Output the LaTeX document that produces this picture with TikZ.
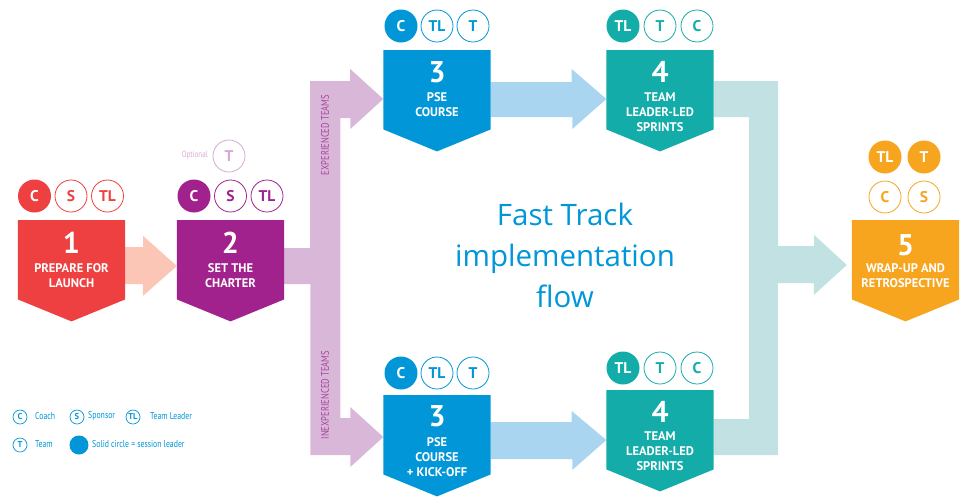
\documentclass[tikz,border=0pt]{standalone}
\usepackage{fontspec}
\setmainfont{PT Sans}
\newfontfamily\narrowfont[FakeStretch=0.78]{PT Sans}
\newfontfamily\titlefont{Open Sans}
\usepackage{xcolor}
\usepackage{tikz}
\definecolor{redbox}{HTML}{EE4040}
\definecolor{peach}{HTML}{FBC6B5}
\definecolor{purplebox}{HTML}{A1228D}
\definecolor{lilac}{HTML}{D9B7D8}
\definecolor{lilactxt}{HTML}{D6A9D4}
\definecolor{purpletxt}{HTML}{A6459C}
\definecolor{bluebox}{HTML}{0096D7}
\definecolor{skyarrow}{HTML}{A9D5F0}
\definecolor{tealbox}{HTML}{14ACA8}
\definecolor{paleteal}{HTML}{C2E1E3}
\definecolor{orangebox}{HTML}{F7A51F}

\begin{document}
\begin{tikzpicture}[x=1pt,y=1pt,yscale=-1,xscale=1,
  stagebox/.style={rectangle,minimum width=107pt,minimum height=79pt,inner sep=0pt,anchor=north},
  stagenum/.style={anchor=north,inner sep=0pt,text=white,font=\bfseries\fontsize{30}{30}\selectfont},
  stagelbl/.style={anchor=north,inner sep=0pt,text=white,align=center,font=\bfseries\fontsize{12.5}{15}\selectfont},
  lead/.style={circle,minimum size=33pt,inner sep=0pt,fill=#1,text=white,font=\bfseries\fontsize{15.5}{15.5}\selectfont},
  part/.style={circle,minimum size=32pt,inner sep=0pt,draw=#1,line width=0.8pt,fill=white,text=#1,font=\bfseries\fontsize{15.5}{15.5}\selectfont},
  keyring/.style={circle,minimum size=14pt,inner sep=0pt,draw=bluebox,line width=0.7pt,text=bluebox,font=\bfseries\fontsize{8.5}{8.5}\selectfont},
  keytxt/.style={anchor=west,inner sep=0pt,text=bluebox,font=\narrowfont\fontsize{10}{10}\selectfont},
  sidetxt/.style={rotate=90,inner sep=0pt,text=purpletxt,font=\narrowfont\fontsize{11}{11}\selectfont}]
\useasboundingbox (0,0) rectangle (965,496);

\node[stagebox] (s1) at (71.5,220) {};
\node[stagebox] (s2) at (230.5,220) {};
\node[stagebox] (s3a) at (437,50) {};
\node[stagebox] (s4a) at (660,50) {};
\node[stagebox] (s3b) at (437,395) {};
\node[stagebox] (s4b) at (660,390) {};
\node[stagebox] (s5) at (905.5,220) {};

\fill[peach] ([yshift=27pt]s1.north east) -- ++(18,0) -- ++(0,-11) -- ([yshift=46pt]s2.north west) -- ++(-34,30) -- ++(0,-12) -- ([yshift=64pt]s1.north east) -- cycle;
\fill[lilac] ([yshift=28pt]s2.north east) -- ++(26,0) -- ++(0,-167) -- ++(40,0) -- ++(0,-12) -- ([yshift=49pt]s3a.north west) -- ++(-33,30) -- ++(0,-11) -- ++(-10,0) -- ++(0,300) -- ++(10,0) -- ++(0,-11) -- ([yshift=42pt]s3b.north west) -- ++(-33,30) -- ++(0,-12) -- ++(-40,0) -- ++(0,-171) -- ([yshift=64pt]s2.north east) -- cycle;
\fill[skyarrow] ([yshift=32pt]s3a.north east) -- ++(81,0) -- ++(0,-13) -- ([yshift=49pt]s4a.north west) -- ++(-34,30) -- ++(0,-12) -- ([yshift=67pt]s3a.north east) -- cycle;
\fill[skyarrow] ([yshift=27pt]s3b.north east) -- ++(81,0) -- ++(0,-11) -- ([yshift=50pt]s4b.north west) -- ++(-34,30) -- ++(0,-11) -- ([yshift=64pt]s3b.north east) -- cycle;
\fill[paleteal] ([yshift=31pt]s4a.north east) -- ++(64.5,0) -- ++(0,165) -- ++(36,0) -- ++(0,-11) -- ([xshift=-5pt,yshift=45pt]s5.north west) -- ++(-33,30) -- ++(0,-12) -- ++(-36,0) -- ++(0,172) -- ([yshift=65pt]s4b.north east) -- ++(0,-36) -- ++(35.5,0) -- ++(0,-302) -- ([yshift=67pt]s4a.north east) -- cycle;

\fill[redbox] (s1.north west) -- (s1.north east) -- (s1.south east) -- ([yshift=22pt]s1.south) -- (s1.south west) -- cycle;
\fill[purplebox] (s2.north west) -- (s2.north east) -- (s2.south east) -- ([yshift=22pt]s2.south) -- (s2.south west) -- cycle;
\fill[bluebox] (s3a.north west) -- (s3a.north east) -- (s3a.south east) -- ([yshift=22pt]s3a.south) -- (s3a.south west) -- cycle;
\fill[tealbox] (s4a.north west) -- (s4a.north east) -- (s4a.south east) -- ([yshift=22pt]s4a.south) -- (s4a.south west) -- cycle;
\fill[bluebox] (s3b.north west) -- (s3b.north east) -- (s3b.south east) -- ([yshift=22pt]s3b.south) -- (s3b.south west) -- cycle;
\fill[tealbox] (s4b.north west) -- (s4b.north east) -- (s4b.south east) -- ([yshift=22pt]s4b.south) -- (s4b.south west) -- cycle;
\fill[orangebox] (s5.north west) -- (s5.north east) -- (s5.south east) -- ([yshift=22pt]s5.south) -- (s5.south west) -- cycle;

\node[stagenum] (n1) at ([yshift=12pt]s1.north) {1};
\node[stagelbl] (l1) at ([yshift=43pt]s1.north) {PREPARE FOR\\LAUNCH};
\node[stagenum] (n2) at ([yshift=12pt]s2.north) {2};
\node[stagelbl] (l2) at ([yshift=43pt]s2.north) {SET THE\\CHARTER};
\node[stagenum] (n3a) at ([yshift=11pt]s3a.north) {3};
\node[stagelbl] (l3a) at ([yshift=42pt]s3a.north) {PSE\\COURSE};
\node[stagenum] (n4a) at ([yshift=11pt]s4a.north) {4};
\node[stagelbl] (l4a) at ([yshift=42pt]s4a.north) {TEAM\\LEADER-LED\\SPRINTS};
\node[stagenum] (n3b) at ([yshift=10pt]s3b.north) {3};
\node[stagelbl] (l3b) at ([yshift=42pt]s3b.north) {PSE\\COURSE\\+ KICK-OFF};
\node[stagenum] (n4b) at ([yshift=11pt]s4b.north) {4};
\node[stagelbl] (l4b) at ([yshift=41pt]s4b.north) {TEAM\\LEADER-LED\\SPRINTS};
\node[stagenum] (n5) at ([yshift=14pt]s5.north) {5};
\node[stagelbl] (l5) at ([yshift=43pt]s5.north) {WRAP-UP AND\\RETROSPECTIVE};

\node[lead=redbox] (c1c) at (34.5,196) {C};
\node[part=redbox] (c1s) at (71,196) {S};
\node[part=redbox] (c1tl) at (107.5,196) {TL};
\node[lead=purplebox] (c2c) at (194,196) {C};
\node[part=purplebox] (c2s) at (230.5,196) {S};
\node[part=purplebox] (c2tl) at (267,196) {TL};
\node[part=lilactxt] (c2t) at (229,156) {T};
\node[anchor=east,inner sep=0pt,text=lilactxt,font=\narrowfont\fontsize{9}{9}\selectfont] (opt) at (208,155) {Optional};
\node[lead=bluebox] (c3ac) at (401,26) {C};
\node[part=bluebox] (c3atl) at (437,26) {TL};
\node[part=bluebox] (c3at) at (473,26) {T};
\node[lead=tealbox] (c4atl) at (623,26) {TL};
\node[part=tealbox] (c4at) at (660,26) {T};
\node[part=tealbox] (c4ac) at (697,26) {C};
\node[lead=bluebox] (c3bc) at (401,373) {C};
\node[part=bluebox] (c3btl) at (437,373) {TL};
\node[part=bluebox] (c3bt) at (473,373) {T};
\node[lead=tealbox] (c4btl) at (623,368) {TL};
\node[part=tealbox] (c4bt) at (660,368) {T};
\node[part=tealbox] (c4bc) at (697,368) {C};
\node[lead=orangebox] (c5tl) at (885,157) {TL};
\node[lead=orangebox] (c5t) at (924,157) {T};
\node[part=orangebox] (c5c) at (885,197) {C};
\node[part=orangebox] (c5s) at (924,197) {S};

\node[sidetxt] (exp) at (325,135) {EXPERIENCED TEAMS};
\node[sidetxt] (inexp) at (325,395) {INEXPERIENCED TEAMS};

\node[align=center,inner sep=0pt,text=bluebox,font=\titlefont\fontsize{29.5}{41}\selectfont] (title) at (565,255) {Fast Track\\implementation\\flow};

\node[keyring] (kc) at (20,417) {C};
\node[keytxt] (kct) at (35,416) {Coach};
\node[keyring] (ks) at (77,417) {S};
\node[keytxt] (kst) at (88,416) {Sponsor};
\node[keyring] (ktl) at (133,417) {TL};
\node[keytxt] (ktlt) at (150,416) {Team Leader};
\node[keyring] (kt) at (20,445) {T};
\node[keytxt] (ktt) at (35,444) {Team};
\node[circle,minimum size=19pt,inner sep=0pt,fill=bluebox] (ksolid) at (79,445) {};
\node[keytxt] (ksolidt) at (92,444) {Solid circle = session leader};
\end{tikzpicture}
\end{document}
